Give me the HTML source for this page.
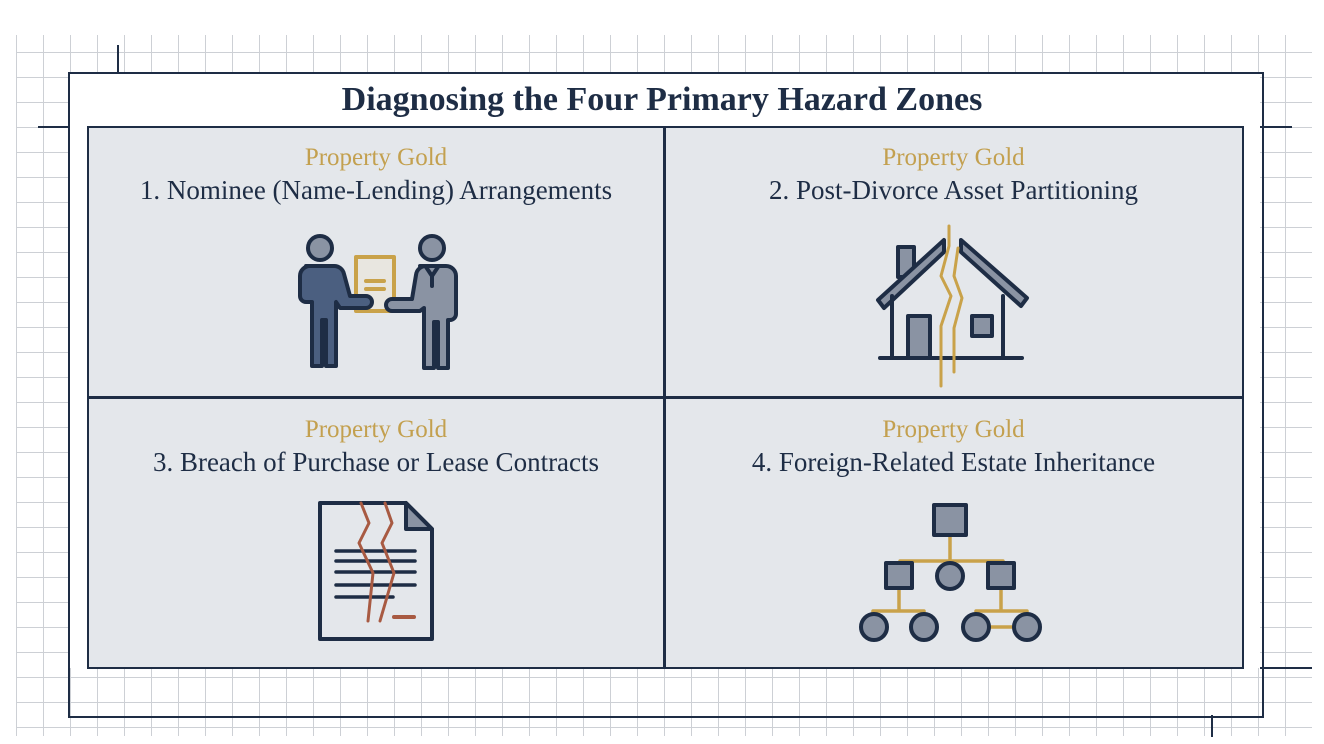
<!DOCTYPE html>
<html><head><meta charset="utf-8"><style>
body{margin:0;width:1324px;height:744px;background:#fff;position:relative;overflow:hidden;font-family:"Liberation Serif",serif}
.grid{position:absolute;left:16px;top:35px;width:1296px;height:701px;
background-image:linear-gradient(to right,#cdd0d5 1.2px,transparent 1.2px),linear-gradient(to bottom,#cdd0d5 1.2px,transparent 1.2px);
background-size:27px 25px;background-position:0px -8px}
.frame{position:absolute;left:68px;top:72px;width:1192px;height:642px;border:2px solid #1e2d45;box-sizing:content-box}
.white{position:absolute;left:70px;top:74px;width:1190px;height:594px;background:#fff}
.panel{position:absolute;background:#e4e7eb;border:2px solid #1e2d45;box-sizing:border-box}
.t{position:absolute;left:0;top:80px;width:1324px;text-align:center;font-weight:bold;font-size:34px;color:#1e2d45;line-height:40px}
.g{position:absolute;text-align:center;color:#c3a04f;font-size:25px;line-height:28px}
.s{position:absolute;text-align:center;color:#1e2d45;font-size:27px;line-height:30px}
.line{position:absolute;background:#1e2d45}
</style></head><body>
<div class="grid"></div>
<div class="line" style="left:38px;top:126px;width:1254px;height:2px"></div>
<div class="line" style="left:1260px;top:667px;width:52px;height:2px"></div>
<div class="line" style="left:117px;top:45px;width:2px;height:28px"></div>
<div class="line" style="left:1211px;top:715px;width:2px;height:22px"></div>
<div class="white"></div>
<div class="frame"></div>
<div class="t">Diagnosing the Four Primary Hazard Zones</div>
<div class="panel" style="left:87px;top:126px;width:1157px;height:543px"></div>
<div class="line" style="left:663px;top:126px;width:3px;height:543px"></div>
<div class="line" style="left:87px;top:396px;width:1157px;height:3px"></div>

<div class="g" style="left:88px;top:144px;width:576px">Property Gold</div>
<div class="s" style="left:88px;top:175px;width:576px">1. Nominee (Name-Lending) Arrangements</div>
<div class="g" style="left:665px;top:144px;width:577px">Property Gold</div>
<div class="s" style="left:665px;top:175px;width:577px">2. Post-Divorce Asset Partitioning</div>
<div class="g" style="left:88px;top:416px;width:576px">Property Gold</div>
<div class="s" style="left:88px;top:447px;width:576px">3. Breach of Purchase or Lease Contracts</div>
<div class="g" style="left:665px;top:416px;width:577px">Property Gold</div>
<div class="s" style="left:665px;top:447px;width:577px">4. Foreign-Related Estate Inheritance</div>

<svg width="1324" height="744" style="position:absolute;left:0;top:0">
<g stroke="#1e2d45" stroke-width="4" stroke-linejoin="round" stroke-linecap="round">
<!-- people -->
<rect x="356" y="257" width="38" height="54" fill="#e8e6e0" stroke="#c9a24a"/>
<line x1="366" y1="281" x2="384" y2="281" stroke="#c9a24a"/><line x1="366" y1="289" x2="384" y2="289" stroke="#c9a24a"/>
<circle cx="320" cy="248" r="12" fill="#8a93a3"/>
<path d="M306 266 h28 a10 10 0 0 1 10 8 l6 22 h16 a6 6 0 0 1 0 12 h-26 l-4 -6 v64 h-10 v-46 h-4 v46 h-10 v-64 h-6 a6 6 0 0 1 -6 -6 v-20 a10 10 0 0 1 10 -10 z" fill="#4b5f80"/>
<circle cx="432" cy="248" r="12" fill="#8a93a3"/>
<path d="M420 266 h26 a10 10 0 0 1 10 10 v38 a6 6 0 0 1 -6 6 h-2 v48 h-10 v-46 h-4 v46 h-10 v-60 l-4 3 h-28 a6 6 0 0 1 0 -12 h20 l4 -24 a10 10 0 0 1 10 -9 z" fill="#8a93a3"/>
<path d="M426 267 l6 9 l6 -9 M432 276 v10" fill="none"/>
<!-- house -->
<rect x="898" y="247" width="16" height="30" fill="#8a93a3"/>
<path d="M878 300 l66 -60 v12 l-60 56 z" fill="#8a93a3"/>
<path d="M961 240 l66 58 l-6 8 l-60 -54 z" fill="#8a93a3"/>
<path d="M892 296 v62 h48 M961 358 h42 v-62" fill="none"/>
<line x1="880" y1="358" x2="1022" y2="358"/>
<rect x="908" y="316" width="22" height="42" fill="#8a93a3"/>
<rect x="972" y="316" width="20" height="20" fill="#8a93a3"/>
<path d="M949 226 v20 l-8 30 l10 20 l-10 30 v60 M958 248 l-4 28 l8 22 l-8 30 v44" fill="none" stroke="#c9a24a" stroke-width="3"/>
<!-- document -->
<path d="M320 503 h86 l26 26 v110 h-112 z" fill="none"/>
<path d="M406 503 v26 h26 z" fill="#8a93a3"/>
<g stroke-width="3.5"><line x1="336" y1="551" x2="415" y2="551"/><line x1="336" y1="561" x2="415" y2="561"/><line x1="336" y1="572" x2="415" y2="572"/><line x1="336" y1="585" x2="415" y2="585"/><line x1="336" y1="597" x2="393" y2="597"/></g>
<path d="M361 503 l8 20 l-10 20 l14 30 l-5 48 M385 503 l7 20 l-10 20 l12 30 l-14 48" fill="none" stroke="#a85a42" stroke-width="3"/>
<line x1="394" y1="617" x2="414" y2="617" stroke="#a85a42"/>
<!-- tree -->
<g fill="none" stroke="#c9a24a" stroke-width="3.5">
<path d="M950 535 v38 M900 573 v-12 h103 v12 M950 561 v6 M899 588 v23 M873 625 v-14 h51 v14 M1001 588 v23 M976 625 v-14 h51 v14 M988 627 h25"/>
</g>
<rect x="934" y="505" width="32" height="30" fill="#8a93a3"/>
<rect x="886" y="563" width="26" height="25" fill="#8a93a3"/>
<circle cx="950" cy="576" r="13" fill="#8a93a3"/>
<rect x="988" y="563" width="26" height="25" fill="#8a93a3"/>
<circle cx="874" cy="627" r="13" fill="#8a93a3"/>
<circle cx="924" cy="627" r="13" fill="#8a93a3"/>
<circle cx="976" cy="627" r="13" fill="#8a93a3"/>
<circle cx="1027" cy="627" r="13" fill="#8a93a3"/>
</g>
</svg>
</body></html>
